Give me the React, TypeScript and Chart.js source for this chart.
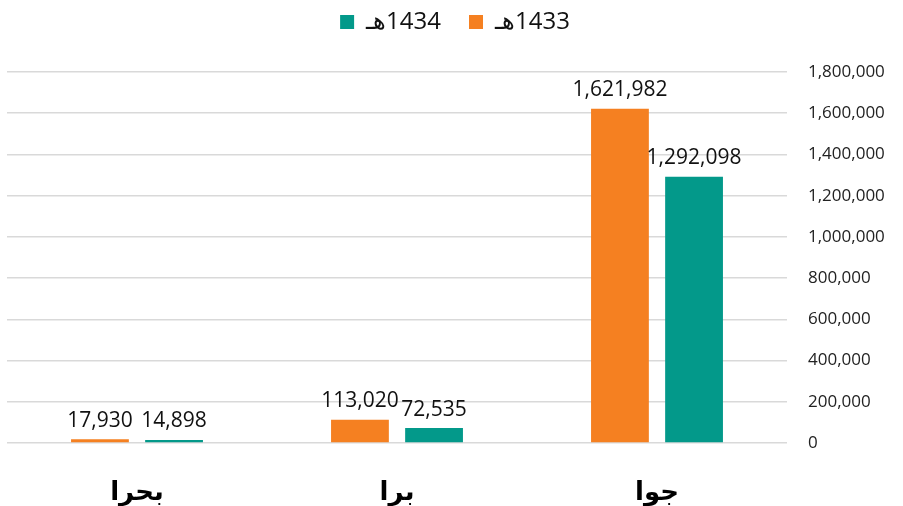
import React, { useEffect, useRef } from "react";
import { Chart, registerables } from "chart.js";

Chart.register(...registerables);

const categories = ["بحرا", "برا", "جوا"];
const series1433 = [17930, 113020, 1621982];
const series1434 = [14898, 72535, 1292098];
const seriesNames = ["1433هـ", "1434هـ"];
const yTicks = [0, 200000, 400000, 600000, 800000, 1000000, 1200000, 1400000, 1600000, 1800000];

const ORANGE = "#F58021";
const TEAL = "#03998A";

const fmt = (v: number) => v.toLocaleString("en-US");

const valueLabels = {
  id: "valueLabels",
  beforeLayout(chart: any) {
    const lg = chart.legend;
    if (lg && !lg.__patched) {
      const origFit = lg.fit;
      lg.fit = function (this: any) {
        origFit.call(this);
        this.height = 72;
      };
      const origDraw = lg.draw;
      lg.draw = function (this: any) {
        const c = this.ctx;
        c.save();
        c.translate(0, -18);
        origDraw.call(this);
        c.restore();
      };
      lg.__patched = true;
    }
  },
  afterDatasetsDraw(chart: any) {
    const ctx = chart.ctx;
    ctx.save();
    ctx.font = "21px 'Open Sans'";
    ctx.fillStyle = "#111";
    ctx.textAlign = "center";
    ctx.textBaseline = "bottom";
    chart.data.datasets.forEach((ds: any, di: number) => {
      const meta = chart.getDatasetMeta(di);
      meta.data.forEach((bar: any, i: number) => {
        ctx.fillText(fmt(ds.data[i]), bar.x, bar.y - 8);
      });
    });
    ctx.restore();
  },
};

export default function App() {
  const ref = useRef<HTMLCanvasElement | null>(null);
  useEffect(() => {
    if (!ref.current) return;
    const chart = new Chart(ref.current, {
      type: "bar",
      data: {
        labels: categories,
        datasets: [
          { label: seriesNames[0], data: series1433, backgroundColor: ORANGE },
          { label: seriesNames[1], data: series1434, backgroundColor: TEAL },
        ],
      },
      options: {
        animation: false,
        responsive: false,
        maintainAspectRatio: false,
        datasets: { bar: { categoryPercentage: 0.57, barPercentage: 0.78 } },
        layout: { padding: { left: 7, right: 0, top: 0, bottom: 0 } },
        plugins: {
          tooltip: { enabled: false },
          legend: {
            position: "top",
            reverse: true,
            textDirection: "rtl",
            labels: {
              boxWidth: 14,
              boxHeight: 14,
              padding: 28,
              color: "#111",
              font: { family: "'Open Sans'", size: 24 },
            },
          },
        },
        scales: {
          x: {
            grid: { display: false },
            border: { display: false },
            afterFit: (axis: any) => {
              axis.height = 63;
            },
            ticks: {
              color: "#000",
              padding: 27,
              font: { family: "'DejaVu Sans'", size: 26, weight: "bold" },
            },
          },
          y: {
            position: "right",
            min: 0,
            max: 1800000,
            afterBuildTicks: (axis: any) => {
              axis.ticks = yTicks.map((v) => ({ value: v }));
            },
            afterFit: (axis: any) => {
              axis.width = 116;
            },
            grid: { color: "#d9d9d9", lineWidth: 1.5, drawTicks: false },
            border: { display: false },
            ticks: {
              color: "#222",
              padding: 21,
              font: { family: "'Open Sans'", size: 17 },
              callback: (v: any) => fmt(Number(v)),
            },
          },
        },
      },
      plugins: [valueLabels],
    });
    return () => chart.destroy();
  }, []);
  return (
    <div style={{ position: "fixed", left: 0, top: 0, width: 903, height: 506, background: "#fff" }}>
      <canvas ref={ref} width={903} height={506} style={{ display: "block" }} />
    </div>
  );
}
